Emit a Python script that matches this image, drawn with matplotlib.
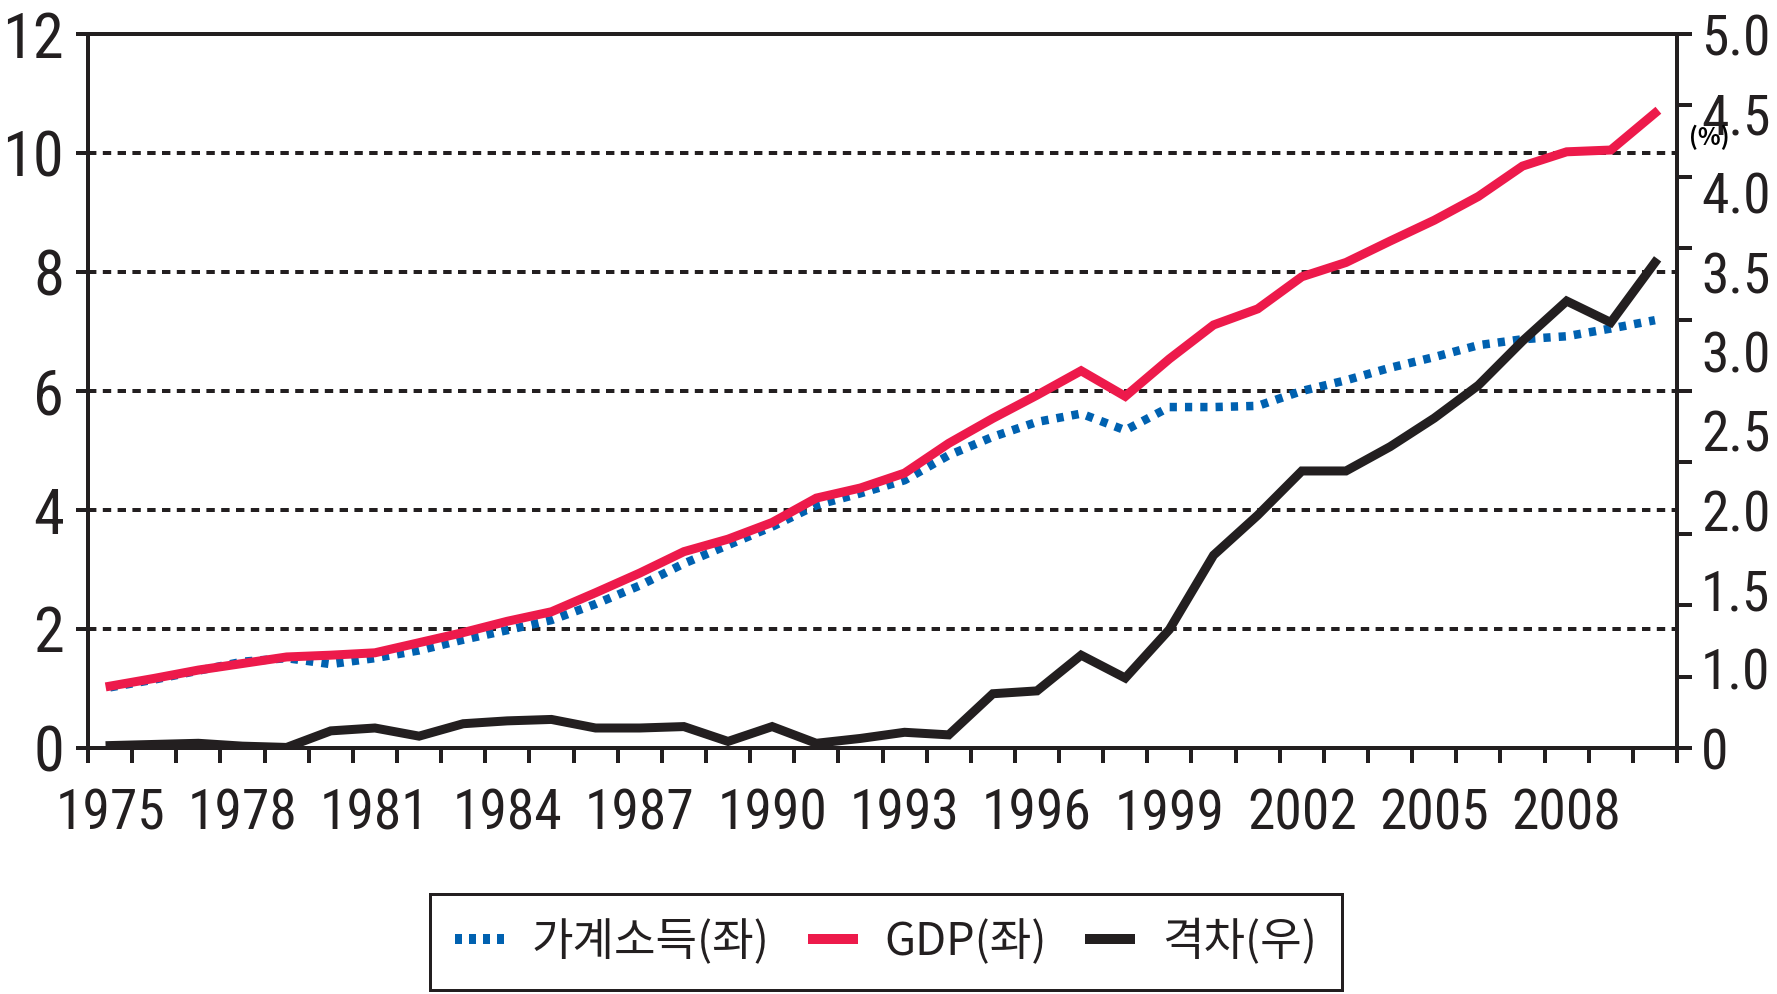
import numpy as np
import matplotlib
matplotlib.use('Agg')
import matplotlib.pyplot as plt
from matplotlib import font_manager as fm
from matplotlib.lines import Line2D
from matplotlib.font_manager import FontProperties
from matplotlib.ticker import FixedLocator, NullFormatter, FixedFormatter

# ---------------- data ----------------
years = list(range(1975, 2011))
household = [1.02, 1.15, 1.30, 1.45, 1.51, 1.41, 1.51, 1.64, 1.82, 1.98,
             2.15, 2.42, 2.73, 3.10, 3.41, 3.72, 4.08, 4.28, 4.50, 4.92,
             5.23, 5.48, 5.62, 5.34, 5.73, 5.73, 5.75, 6.00, 6.18, 6.39,
             6.57, 6.77, 6.87, 6.92, 7.05, 7.19]
gdp = [1.04, 1.17, 1.31, 1.42, 1.53, 1.56, 1.60, 1.77, 1.94, 2.13,
       2.29, 2.61, 2.94, 3.30, 3.51, 3.79, 4.20, 4.37, 4.62, 5.12,
       5.54, 5.93, 6.34, 5.91, 6.54, 7.11, 7.38, 7.92, 8.16, 8.52,
       8.87, 9.27, 9.78, 10.02, 10.05, 10.67]
gap = [0.017, 0.025, 0.033, 0.013, 0.004, 0.12, 0.14, 0.083, 0.17, 0.19,
       0.20, 0.14, 0.14, 0.15, 0.046, 0.15, 0.033, 0.067, 0.11, 0.092,
       0.38, 0.40, 0.65, 0.49, 0.83, 1.35, 1.63, 1.94, 1.94, 2.11,
       2.31, 2.54, 2.85, 3.13, 2.98, 3.40]
left_ticks = [0, 2, 4, 6, 8, 10, 12]
left_labels = ['0', '2', '4', '6', '8', '10', '12']
right_ticks = [0, 0.5, 1.0, 1.5, 2.0, 2.5, 3.0, 3.5, 4.0, 4.5, 5.0]
right_labels = ['0', '1.0', '1.5', '2.0', '2.5', '3.0', '3.5', '4.0', '4.5', '5.0']
year_labels = [str(y) for y in years[::3]]
legend_labels = ['가계소득(좌)', 'GDP(좌)', '격차(우)']
unit_label = '(%)'

# ---------------- fonts ----------------
avail = {f.name for f in fm.fontManager.ttflist}
def pick(names, default='DejaVu Sans'):
    for n in names:
        if n in avail:
            return n
    return default
NUM = pick(['Liberation Sans Narrow', 'Roboto Condensed', 'Open Sans Condensed', 'Liberation Sans'])
KR = pick(['Noto Sans CJK KR', 'Noto Sans CJK JP', 'Noto Sans CJK SC', 'Noto Sans CJK TC',
           'Noto Sans KR', 'Noto Sans CJK'])
plt.rcParams['font.family'] = [NUM, KR, 'DejaVu Sans']

# ---------------- figure ----------------
DPI = 100
W, H = 1777, 994
px = 72.0 / DPI
fig = plt.figure(figsize=(W / DPI, H / DPI), dpi=DPI)
L, R, T, B = 88, 1677, 34, 748
ax = fig.add_axes([L / W, 1 - B / H, (R - L) / W, (B - T) / H])
ax2 = ax.twinx()

INK = '#231f20'
BLUE = '#0061b0'
RED = '#ed1a4b'

x = np.arange(len(years))
ax.set_xlim(-0.5, len(years) - 0.5)
ax.set_ylim(0, 12)
ax2.set_ylim(0, 5)

for v in left_ticks[1:-1]:
    ax.axhline(v, color=INK, lw=4 * px, dashes=(2.1, 1.6), zorder=1)

ax.plot(x, household, color=BLUE, lw=8.5 * px, linestyle=(0, (0.85, 0.95)),
        dash_capstyle='butt', zorder=3)
ax.plot(x, gdp, color=RED, lw=9 * px, zorder=4, solid_joinstyle='miter')
ax2.plot(x, gap, color=INK, lw=9 * px, zorder=4, solid_joinstyle='miter')

# x axis: ticks at category boundaries, labels at every third year
ax.xaxis.set_major_locator(FixedLocator(np.arange(-0.5, len(years), 1.0)))
ax.xaxis.set_major_formatter(NullFormatter())
ax.xaxis.set_minor_locator(FixedLocator(x[::3]))
ax.xaxis.set_minor_formatter(FixedFormatter(year_labels))
ax.xaxis.remove_overlapping_locs = False
ax.tick_params(axis='x', which='major', direction='out', length=15 * px, width=4 * px, color=INK)
ax.tick_params(axis='x', which='minor', length=0, pad=40 * px, labelsize=40, labelcolor=INK)

# left y axis
ax.yaxis.set_major_locator(FixedLocator(left_ticks))
ax.yaxis.set_major_formatter(FixedFormatter(left_labels))
ax.tick_params(axis='y', which='major', direction='out', length=12 * px, width=4 * px,
               pad=12 * px, labelsize=45, color=INK, labelcolor=INK)

# right y axis
ax2.yaxis.set_major_locator(FixedLocator(right_ticks))
ax2.yaxis.set_major_formatter(NullFormatter())
ax2.yaxis.set_minor_locator(FixedLocator(np.linspace(0, 5, len(right_labels))))
ax2.yaxis.set_minor_formatter(FixedFormatter(right_labels))
ax2.yaxis.remove_overlapping_locs = False
ax2.tick_params(axis='y', which='major', direction='out', length=15 * px, width=4 * px, color=INK)
ax2.tick_params(axis='y', which='minor', length=0, pad=24 * px, labelsize=40, labelcolor=INK)

for a in (ax, ax2):
    for s in a.spines.values():
        s.set_linewidth(4 * px)
        s.set_color(INK)

fig.text(1709 / W, 1 - 137 / H, unit_label, ha='center', va='center', fontsize=17,
         fontweight='bold', family=[KR, 'DejaVu Sans'], color='black')

handles = [
    Line2D([], [], color=BLUE, lw=10 * px, linestyle=(0, (0.7, 0.7)), dash_capstyle='butt'),
    Line2D([], [], color=RED, lw=10 * px, solid_capstyle='butt'),
    Line2D([], [], color=INK, lw=10 * px, solid_capstyle='butt'),
]
leg = fig.legend(handles, legend_labels, loc='center', bbox_to_anchor=(886 / W, 1 - 942 / H),
                 ncol=3, frameon=True, fancybox=False, edgecolor=INK,
                 prop=FontProperties(family=[KR, 'DejaVu Sans'], size=32.5),
                 handlelength=1.1, handletextpad=0.6, columnspacing=0.85, borderpad=0.55)
leg.get_frame().set_linewidth(3 * px)
leg.get_frame().set_alpha(1)
for t in leg.get_texts():
    t.set_color(INK)

fig.savefig('out.png', dpi=DPI)
